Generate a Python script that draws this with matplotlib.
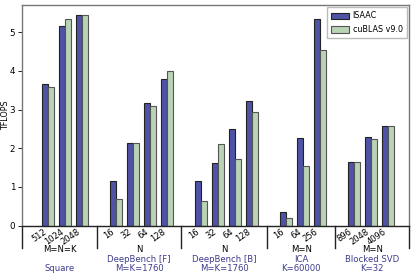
import numpy as np
import matplotlib
matplotlib.use("Agg")
from matplotlib import pyplot as plt
from matplotlib.patches import Patch
from matplotlib.transforms import blended_transform_factory

# bar positions (one empty slot between groups)
pos = [1, 2, 3, 5, 6, 7, 8, 10, 11, 12, 13, 15, 16, 17, 19, 20, 21]
ticks = ["512", "1024", "2048", "16", "32", "64", "128", "16", "32", "64", "128",
         "16", "64", "256", "896", "2048", "4096"]
isaac = [3.65, 5.16, 5.44, 1.15, 2.14, 3.16, 3.80, 1.15, 1.63, 2.49, 3.22,
         0.35, 2.27, 5.34, 1.65, 2.28, 2.58]
cublas = [3.59, 5.33, 5.44, 0.68, 2.13, 3.10, 4.00, 0.64, 2.10, 1.72, 2.93,
          0.20, 1.53, 4.54, 1.64, 2.23, 2.57]

separators = [-0.53, 3.88, 8.85, 13.9, 17.9, 22.24]
sizes = ["M=N=K", "N", "N", "M=N", "M=N"]
names = ["", "DeepBench [F]", "DeepBench [B]", "ICA", "Blocked SVD"]
fixed = ["Square", "M=K=1760", "M=K=1760", "K=60000", "K=32"]

c_isaac = "#4f53a6"
c_cublas = "#b9d3b5"
c_text = "#3c3c8c"
w = 0.36

fig = plt.figure(figsize=(4.15, 2.77), dpi=100)
ax = fig.add_axes([22 / 415, 1 - 225.7 / 277, 387 / 415, 220.7 / 277])

x = np.array(pos)
ax.bar(x - w / 2, isaac, w, color=c_isaac, edgecolor="#222222", linewidth=0.8, label="ISAAC")
ax.bar(x + w / 2, cublas, w, color=c_cublas, edgecolor="#555555", linewidth=0.8, label="cuBLAS v9.0")

ax.set_xlim(separators[0], separators[-1])
ax.set_ylim(0, 5.7)
ax.set_yticks([0, 1, 2, 3, 4, 5])
ax.tick_params(axis="y", labelsize=6.3, length=3, width=0.6, pad=2)
ax.set_xticks(x)
ax.set_xticklabels(ticks, rotation=35, ha="right", fontsize=6.0)
ax.tick_params(axis="x", length=0, pad=1)
ax.set_ylabel("TFLOPS", fontsize=5.8)
ax.yaxis.set_label_coords(-0.030, 0.5)

for s in ax.spines.values():
    s.set_color("#777777")
    s.set_linewidth(1.0)
ax.spines["bottom"].set_color("#222222")

trans = blended_transform_factory(ax.transData, ax.transAxes)
for sx in separators:
    ax.plot([sx, sx], [0, -22 / 220.7], color="#222222", linewidth=1.0,
            transform=trans, clip_on=False)

for i in range(5):
    cx = (separators[i] + separators[i + 1]) / 2
    ax.text(cx, -(250 - 225.7) / 220.7, sizes[i], transform=trans, ha="center",
            va="center", fontsize=6.1, color="black")
    if names[i]:
        ax.text(cx, -(259.5 - 225.7) / 220.7, names[i], transform=trans, ha="center",
                va="center", fontsize=6.1, color=c_text)
    ax.text(cx, -(268.3 - 225.7) / 220.7, fixed[i], transform=trans, ha="center",
            va="center", fontsize=6.1, color=c_text)

handles = [Patch(facecolor=c_isaac, edgecolor="#222222", linewidth=0.8),
           Patch(facecolor=c_cublas, edgecolor="#555555", linewidth=0.8)]
ax.legend(handles, ["ISAAC", "cuBLAS v9.0"], loc="upper right", fontsize=5.8,
          fancybox=False, framealpha=1, edgecolor="#bbbbbb", handlelength=2.2,
          handleheight=0.8, borderpad=0.5, labelspacing=0.6, borderaxespad=0.3,
          handletextpad=0.5)

fig.savefig("out.png", dpi=100)
